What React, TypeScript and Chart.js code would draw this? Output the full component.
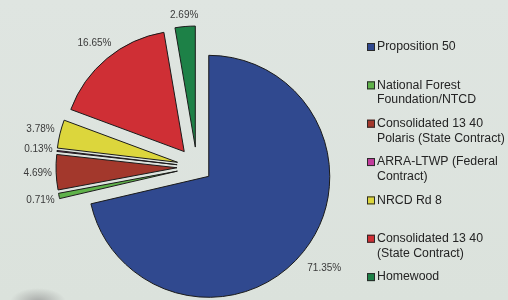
import React, { useEffect, useRef } from "react";
import { Chart, registerables } from "chart.js";

Chart.register(...registerables);

// ---- data ----
const categories = [
  "Proposition 50",
  "National Forest Foundation/NTCD",
  "Consolidated 13 40 Polaris (State Contract)",
  "ARRA-LTWP (Federal Contract)",
  "NRCD Rd 8",
  "Consolidated 13 40 (State Contract)",
  "Homewood",
];
const legendLines = [
  ["Proposition 50"],
  ["National Forest", "Foundation/NTCD"],
  ["Consolidated 13 40", "Polaris (State Contract)"],
  ["ARRA-LTWP (Federal", "Contract)"],
  ["NRCD Rd 8"],
  ["Consolidated 13 40", "(State Contract)"],
  ["Homewood"],
];
const shares = [71.35, 0.71, 4.69, 0.13, 3.78, 16.65, 2.69];
const colors = ["#30498f", "#5fb24a", "#a3382c", "#c23c9c", "#dcd63c", "#cf2f35", "#1d8147"];
const explode = [15, 20, 20, 20, 20, 20, 20];
const labelGap = [10, 4, 4, 4, 5, 5, 5];

const explodePlugin = {
  id: "explodeSlices",
  afterDatasetsUpdate(chart: any) {
    const meta = chart.getDatasetMeta(0);
    meta.data.forEach((arc: any, i: number) => {
      const mid = (arc.startAngle + arc.endAngle) / 2;
      const d = explode[i] || 0;
      arc.x += Math.cos(mid) * d;
      arc.y += Math.sin(mid) * d;
    });
  },
};

const labelPlugin = {
  id: "pctLabels",
  afterDatasetsDraw(chart: any) {
    const ctx = chart.ctx;
    const meta = chart.getDatasetMeta(0);
    ctx.save();
    ctx.font = "10px 'Liberation Sans', Arial, sans-serif";
    ctx.fillStyle = "#3a3a3a";
    ctx.textAlign = "center";
    ctx.textBaseline = "middle";
    meta.data.forEach((arc: any, i: number) => {
      const txt = shares[i].toFixed(2) + "%";
      const mid = (arc.startAngle + arc.endAngle) / 2;
      const dx = Math.cos(mid);
      const dy = Math.sin(mid);
      const hw = ctx.measureText(txt).width / 2;
      const hh = 5;
      const t = arc.outerRadius + labelGap[i] + Math.abs(dx) * hw + Math.abs(dy) * hh;
      ctx.fillText(txt, arc.x + dx * t, arc.y + dy * t);
    });
    ctx.restore();
  },
};

const legendPlugin = {
  id: "sideLegend",
  afterDraw(chart: any) {
    const ctx = chart.ctx;
    ctx.save();
    ctx.font = "12.3px 'Liberation Sans', Arial, sans-serif";
    ctx.textBaseline = "middle";
    ctx.textAlign = "left";
    const startY = 47;
    const pitch = 38.35;
    const lineH = 14.5;
    legendLines.forEach((lines, i) => {
      const y = startY + i * pitch;
      ctx.fillStyle = colors[i];
      ctx.fillRect(367, y - 4, 8, 8);
      ctx.strokeStyle = "#2a2a2a";
      ctx.lineWidth = 1;
      ctx.strokeRect(367.5, y - 3.5, 7, 7);
      ctx.fillStyle = "#242424";
      lines.forEach((ln, j) => ctx.fillText(ln, 377, y + j * lineH));
    });
    ctx.restore();
  },
};

export default function App() {
  const ref = useRef<HTMLCanvasElement | null>(null);
  useEffect(() => {
    if (!ref.current) return;
    const chart = new Chart(ref.current, {
      type: "pie",
      data: {
        labels: categories,
        datasets: [
          {
            data: shares,
            backgroundColor: colors,
            borderColor: "#1a1a1a",
            borderWidth: 1,
            borderJoinStyle: "miter",
          } as any,
        ],
      },
      options: {
        animation: false,
        responsive: true,
        maintainAspectRatio: false,
        radius: 121,
        layout: { padding: { left: 0, right: 114, top: 34, bottom: 0 } },
        plugins: {
          legend: { display: false },
          tooltip: { enabled: false },
          title: { display: false },
        },
      } as any,
      plugins: [explodePlugin, labelPlugin, legendPlugin],
    });
    return () => chart.destroy();
  }, []);

  return (
    <div
      style={{
        position: "fixed",
        left: 0,
        top: 0,
        width: 508,
        height: 300,
        background:
          "radial-gradient(ellipse 28px 14px at 38px 302px, rgba(130,130,130,0.6), rgba(130,130,130,0) 100%), linear-gradient(180deg, #dfe5e1 0%, #dbe2dc 100%)",
      }}
    >
      <canvas ref={ref} />
    </div>
  );
}
